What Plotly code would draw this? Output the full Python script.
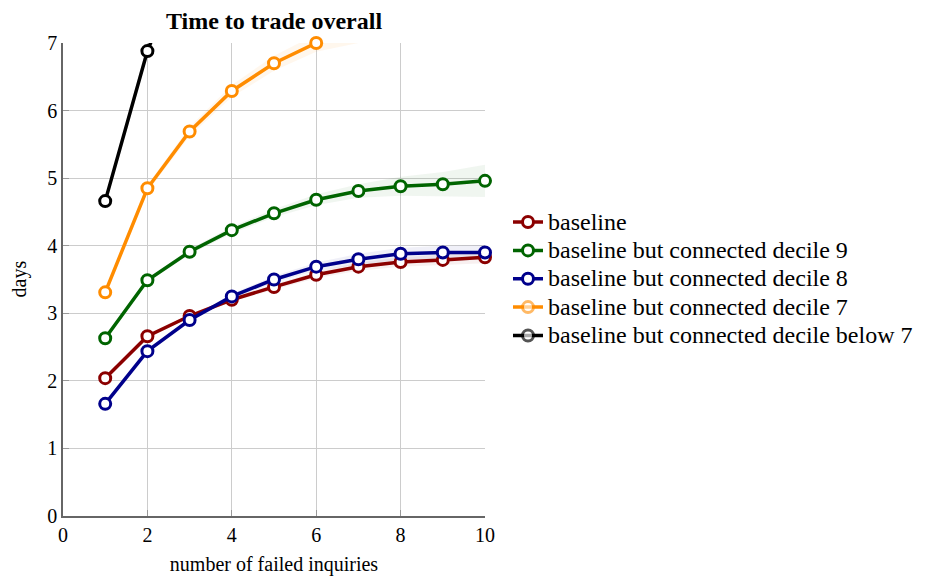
import plotly.graph_objects as go

x = [1, 2, 3, 4, 5, 6, 7, 8, 9, 10]

names = ["baseline", "baseline but connected decile 9", "baseline but connected decile 8",
         "baseline but connected decile 7", "baseline but connected decile below 7"]
colors = ["#8B0000", "#006400", "#00008B", "#FF8C00", "#000000"]
band_colors = ["rgba(139,0,0,0.06)", "rgba(0,100,0,0.06)", "rgba(0,0,139,0.06)",
               "rgba(255,140,0,0.07)", "rgba(0,0,0,0.06)"]

baseline = [2.04, 2.66, 2.96, 3.20, 3.39, 3.57, 3.69, 3.76, 3.79, 3.83]
decile9 = [2.63, 3.49, 3.91, 4.23, 4.48, 4.68, 4.81, 4.88, 4.91, 4.96]
decile8 = [1.66, 2.44, 2.90, 3.25, 3.50, 3.69, 3.80, 3.88, 3.90, 3.90]
decile7 = [3.31, 4.85, 5.69, 6.29, 6.70, 7.00, 7.15, 7.25, 7.30, 7.32]
below7 = [4.66, 6.88, 8.50]

band_half = [
    [0.02, 0.02, 0.03, 0.03, 0.04, 0.05, 0.06, 0.07, 0.08, 0.09],
    [0.02, 0.03, 0.04, 0.05, 0.06, 0.08, 0.10, 0.14, 0.18, 0.24],
    [0.02, 0.02, 0.03, 0.04, 0.05, 0.06, 0.08, 0.09, 0.10, 0.11],
    [0.03, 0.05, 0.07, 0.09, 0.11, 0.13, 0.15, 0.18, 0.20, 0.22],
    [0.05, 0.10, 0.15],
]

series = [baseline, decile9, decile8, decile7, below7]
FONT = "Liberation Serif, Times New Roman, serif"

fig = go.Figure()

# confidence bands
for ys, hw, bc in zip(series, band_half, band_colors):
    xs = x[:len(ys)]
    upper = [v + h for v, h in zip(ys, hw)]
    lower = [v - h for v, h in zip(ys, hw)]
    fig.add_trace(go.Scatter(x=xs + xs[::-1], y=upper + lower[::-1], fill="toself",
                             fillcolor=bc, line=dict(width=0), mode="lines",
                             showlegend=False, hoverinfo="skip"))

for ys, name, c in zip(series, names, colors):
    xs = x[:len(ys)]
    op = [1 if v <= 7.05 else 0 for v in ys]
    fig.add_trace(go.Scatter(x=xs, y=ys,
                             name=f"<span style='font-family:serif;font-size:24px'>{name}</span>",
                             mode="lines+markers",
                             line=dict(color=c, width=3.5),
                             marker=dict(symbol="circle", size=11, color="white",
                                         opacity=op,
                                         line=dict(color=c, width=3)),
                             cliponaxis=False))

W, H = 919, 571
fig.update_layout(
    width=W, height=H,
    margin=dict(l=55, r=442, t=35, b=63, autoexpand=False),
    paper_bgcolor="white", plot_bgcolor="white",
    font=dict(family=FONT, color="black", size=18),
    title=dict(text="<b>Time to trade overall</b>", x=0.5, xanchor="center", xref="paper",
               y=1 - 13 / H, yanchor="middle", font=dict(family=FONT, size=24, color="black")),
    legend=dict(x=1.0545, y=0.662, xanchor="left", yanchor="top",
                font=dict(family=FONT, size=19.5, color="black"),
                bgcolor="rgba(0,0,0,0)", tracegroupgap=0, itemwidth=30),
    showlegend=True,
    annotations=[dict(text="days", textangle=-90, xref="paper", yref="paper",
                      x=-44 / 422, y=0.5, xanchor="center", yanchor="middle", borderpad=0,
                      showarrow=False, font=dict(family=FONT, size=20, color="black"))],
)
fig.update_xaxes(range=[0, 10], tickvals=[0, 2, 4, 6, 8, 10], showgrid=True,
                 gridcolor="#cccccc", gridwidth=1, zeroline=False, automargin=False,
                 showline=True, linecolor="#666666", linewidth=1.5, mirror=False,
                 ticks="inside", ticklen=6, tickcolor="#999999",
                 tickfont=dict(family=FONT, size=20),
                 title=dict(text="number of failed inquiries", font=dict(family=FONT, size=20), standoff=12))
fig.update_yaxes(range=[0, 7], tickvals=list(range(0, 8)), showgrid=True,
                 gridcolor="#cccccc", gridwidth=1, zeroline=False, automargin=False,
                 showline=True, linecolor="#666666", linewidth=1.5,
                 ticks="inside", ticklen=6, tickcolor="#999999",
                 tickfont=dict(family=FONT, size=20))

fig.write_html("out.html")
